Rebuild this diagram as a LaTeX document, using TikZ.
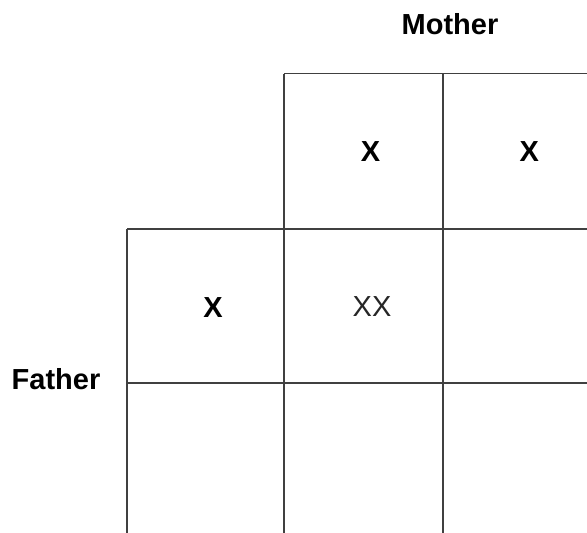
\documentclass[tikz,border=0pt]{standalone}
\usepackage{fontspec}
\setmainfont{Liberation Sans}
\usepackage{tikz}

\begin{document}
\begin{tikzpicture}[line cap=butt,line join=round,x=1pt,y=-1pt,
  gridline/.style={line width=1.1pt,color=black!75},
  bold label/.style={font=\bfseries\fontsize{29}{34}\selectfont},
  plain label/.style={font=\fontsize{29}{34}\selectfont,text=black!85}]
\useasboundingbox (0,0) rectangle (587,533);
\clip (0,0) rectangle (587,533);
\draw [gridline] (284,73.7)-- (587,73.7);
\draw [gridline] (127,229)-- (587,229);
\draw [gridline] (127,383)-- (587,383);
\draw [gridline] (127,229)-- (127,540);
\draw [gridline] (284,73.7)-- (284,540);
\draw [gridline] (443,73.7)-- (443,540);
\node [bold label] (mother) at (450,24) {Mother};
\node [bold label] (father) at (56,379) {Father};
\node [bold label] (momA) at (370.5,151.7) {X};
\node [bold label] (momB) at (529.3,151.7) {X};
\node [bold label] (dadA) at (213,307.8) {X};
\node [plain label] (child) at (372,306.7) {XX};
\end{tikzpicture}
\end{document}
